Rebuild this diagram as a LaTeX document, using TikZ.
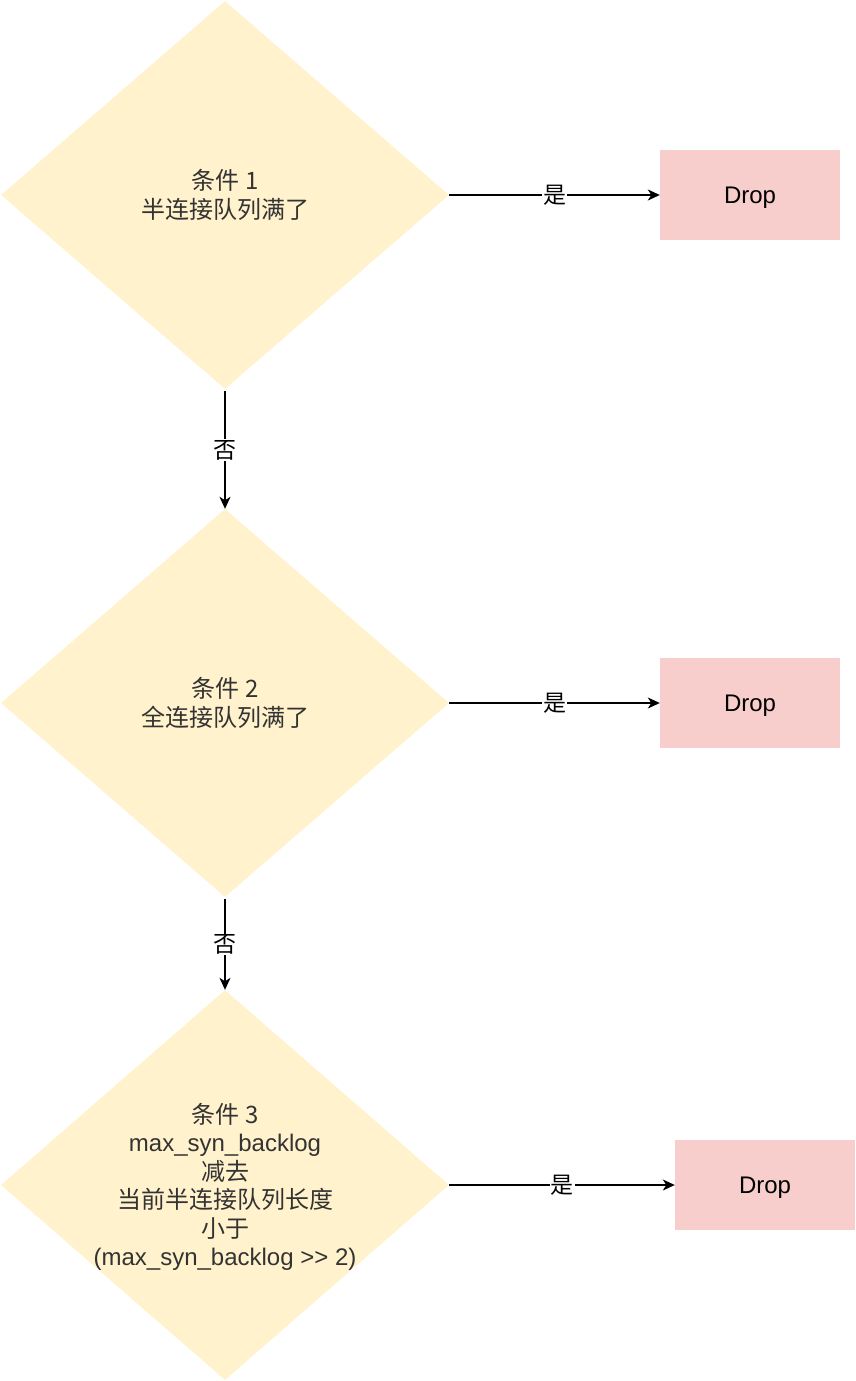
\documentclass[tikz,border=0pt]{standalone}
\usepackage{fontspec}
\setmainfont{Liberation Sans}
\newfontfamily\cjk{Noto Sans CJK SC}
\usetikzlibrary{shapes.geometric,arrows.meta}
\definecolor{condfill}{HTML}{FFF2CC}
\definecolor{dropfill}{HTML}{F8CECC}
\definecolor{txtgray}{HTML}{333333}
\tikzset{
  cond/.style={shape=diamond, fill=condfill, draw=none, inner sep=0pt,
    minimum width=448pt, minimum height=388pt, align=center, text=txtgray,
    font=\fontsize{24}{28.5}\selectfont},
  condtext/.style={inner sep=0pt, align=center, text=txtgray,
    font=\fontsize{24}{28.5}\selectfont},
  dropbox/.style={rectangle, fill=dropfill, draw=none, minimum width=180pt,
    minimum height=90pt, text depth=0pt, font=\fontsize{24}{28}\selectfont, text=black},
  arr/.style={-{Stealth[length=12pt,width=11pt,inset=3.5pt]}, line width=1.3pt, draw=black},
  lbl/.style={fill=white, inner sep=1pt, font=\cjk\fontsize{23}{26}\selectfont, text=black}
}
\begin{document}
\begin{tikzpicture}[x=1pt,y=-1pt]
\useasboundingbox (0,0) rectangle (856,1381);
\node[cond] (d1) at (225,195) {{\cjk 条件 1}\\{\cjk 半连接队列满了}};
\node[cond] (d2) at (225,703) {{\cjk 条件 2}\\{\cjk 全连接队列满了}};
\node[cond, minimum height=390pt] (d3) at (225,1185) {};
\node[condtext] (t3) at (225,1187) {{\cjk 条件 3}\\max\_syn\_backlog\\{\cjk 减去}\\{\cjk 当前半连接队列长度}\\{\cjk 小于}\\(max\_syn\_backlog >{}> 2)};
\node[dropbox] (r1) at (750,195) {Drop};
\node[dropbox] (r2) at (750,703) {Drop};
\node[dropbox] (r3) at (765,1185) {Drop};
\draw[arr] (d1.east) -- node[lbl] {是} (r1.west);
\draw[arr] (d2.east) -- node[lbl] {是} (r2.west);
\draw[arr] (d3.east) -- node[lbl] {是} (r3.west);
\draw[arr] ([yshift=-2pt]d1.south) -- node[lbl] {否} (d2.north);
\draw[arr] ([yshift=-2pt]d2.south) -- node[lbl] {否} (d3.north);
\end{tikzpicture}
\end{document}
